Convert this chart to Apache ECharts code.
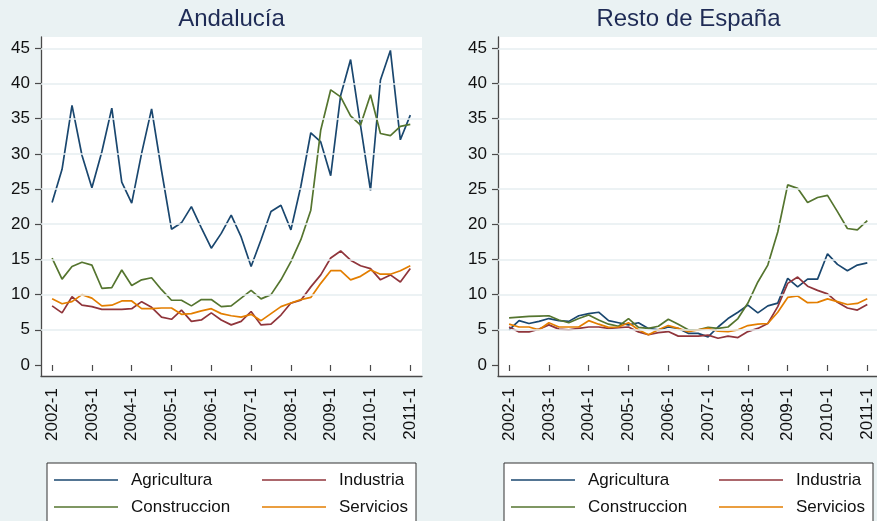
<!DOCTYPE html>
<html>
<head>
<meta charset="utf-8">
<script src="https://cdn.jsdelivr.net/npm/echarts@6/dist/echarts.min.js"></script>
<style>
  html, body { margin: 0; padding: 0; background: #eaf2f3; }
  #chart { width: 877px; height: 521px; }
</style>
</head>
<body>
<div id="chart"></div>
<script>
// trimestres 2002-1 .. 2011-1
var quarters = [];
for (var y = 2002; y <= 2011; y++) {
  for (var q = 1; q <= 4; q++) {
    if (y === 2011 && q > 1) break;
    quarters.push(y + '-' + q);
  }
}
var yTicks = [0, 5, 10, 15, 20, 25, 30, 35, 40, 45];
var titles = ['Andalucía', 'Resto de España'];
var sectors = ['Agricultura', 'Industria', 'Construccion', 'Servicios'];

// Andalucia
var andAgricultura = [23.1, 27.8, 36.9, 29.8, 25.2, 30.3, 36.5, 26.0, 23.0, 30.1, 36.4, 27.6, 19.3, 20.2, 22.5, 19.5, 16.6, 18.7, 21.3, 18.2, 14.0, 17.8, 21.8, 22.7, 19.2, 25.4, 33.0, 31.7, 26.9, 38.3, 43.4, 34.0, 24.8, 40.5, 44.7, 32.0, 35.5];
var andIndustria = [8.4, 7.4, 9.7, 8.5, 8.3, 7.9, 7.9, 7.9, 8.0, 9.0, 8.2, 6.8, 6.5, 7.8, 6.2, 6.4, 7.4, 6.4, 5.7, 6.2, 7.6, 5.7, 5.8, 7.1, 8.8, 9.2, 11.1, 12.8, 15.2, 16.2, 14.9, 14.1, 13.7, 12.1, 12.8, 11.8, 13.7];
var andConstruccion = [15.2, 12.2, 14.0, 14.6, 14.2, 10.9, 11.0, 13.5, 11.3, 12.1, 12.4, 10.7, 9.2, 9.2, 8.4, 9.3, 9.3, 8.3, 8.4, 9.5, 10.6, 9.4, 10.0, 12.1, 14.7, 17.8, 22.0, 33.4, 39.1, 38.1, 35.4, 34.1, 38.4, 32.9, 32.6, 33.9, 34.2];
var andServicios = [9.4, 8.7, 9.0, 10.0, 9.5, 8.4, 8.5, 9.1, 9.1, 8.0, 8.0, 8.1, 8.1, 7.2, 7.3, 7.7, 8.0, 7.3, 7.0, 6.8, 7.2, 6.3, 7.3, 8.3, 8.8, 9.3, 9.6, 11.6, 13.4, 13.4, 12.1, 12.6, 13.5, 12.9, 12.9, 13.4, 14.1];

// Resto de España
var resAgricultura = [5.0, 6.3, 5.9, 6.2, 6.6, 6.3, 6.2, 7.0, 7.3, 7.5, 6.3, 6.0, 5.7, 6.0, 5.2, 5.0, 5.4, 5.2, 4.5, 4.5, 4.0, 5.4, 6.6, 7.5, 8.5, 7.4, 8.4, 8.8, 12.3, 11.1, 12.2, 12.2, 15.8, 14.3, 13.4, 14.2, 14.5];
var resIndustria = [5.4, 4.7, 4.7, 5.1, 5.7, 5.1, 5.0, 5.2, 5.4, 5.4, 5.2, 5.3, 5.4, 4.7, 4.3, 4.6, 4.75, 4.1, 4.1, 4.1, 4.25, 3.8, 4.1, 3.9, 4.75, 5.2, 5.9, 8.3, 11.6, 12.5, 11.2, 10.6, 10.1, 8.9, 8.1, 7.8, 8.6];
var resConstruccion = [6.7, 6.8, 6.9, 6.95, 7.0, 6.4, 6.0, 6.6, 7.1, 6.4, 5.8, 5.5, 6.6, 5.35, 5.2, 5.5, 6.5, 5.8, 5.0, 5.0, 5.35, 5.2, 5.4, 6.6, 8.8, 11.8, 14.2, 18.9, 25.6, 25.1, 23.1, 23.8, 24.1, 21.8, 19.4, 19.2, 20.5];
var resServicios = [5.8, 5.4, 5.4, 5.0, 6.0, 5.4, 5.4, 5.4, 6.3, 5.8, 5.35, 5.4, 6.0, 5.0, 4.3, 5.0, 5.6, 5.2, 4.75, 5.0, 5.2, 4.8, 4.75, 5.0, 5.6, 5.8, 5.9, 7.5, 9.6, 9.8, 8.85, 8.9, 9.4, 9.0, 8.6, 8.75, 9.4];

var panelData = [
  [andAgricultura, andIndustria, andConstruccion, andServicios],
  [resAgricultura, resIndustria, resConstruccion, resServicios]
];

var colors = ['#1a476f', '#90353b', '#55752f', '#e37e00'];
var FONT = 'Liberation Sans, Arial, sans-serif';
var axisColor = '#4a4a4a';

// layout (px)
var panelLeft = [41, 498];
var frameTop = 37, frameH = 339, frameW = 381;
var padL = 11.1, dataW = 358.2, dataTop = 48.3, dataH = 316.7;
var unit = dataH / 45;
var frameMin = -(frameTop + frameH - (dataTop + dataH)) / unit;
var frameMax = 45 + (dataTop - frameTop) / unit;
// leyenda: columna, fila de cada sector
var legendPos = [[0, 0], [1, 0], [0, 1], [1, 1]];

var grid = [], xAxis = [], yAxis = [], series = [], legend = [], graphic = [];

for (var p = 0; p < 2; p++) {
  var L = panelLeft[p];
  var gA = grid.length;
  // marco blanco
  grid.push({ left: L, top: frameTop, width: frameW, height: frameH,
    show: true, backgroundColor: '#ffffff', borderWidth: 0 });
  xAxis.push({ gridIndex: gA, type: 'value', min: 0, max: 1,
    axisLine: { show: true, onZero: false, lineStyle: { color: axisColor, width: 1.3 } },
    axisTick: { show: false }, axisLabel: { show: false }, splitLine: { show: false } });
  yAxis.push({ gridIndex: gA, type: 'value', min: frameMin, max: frameMax,
    axisLine: { show: true, onZero: false, lineStyle: { color: axisColor, width: 1.3 } },
    axisTick: { show: false }, axisLabel: { show: false }, splitLine: { show: false } });
  series.push({
    type: 'line', xAxisIndex: gA, yAxisIndex: gA, data: [], silent: true, z: 1,
    markLine: {
      silent: true, symbol: 'none', label: { show: false },
      lineStyle: { color: '#e6eef0', type: 'solid', width: 1.6 },
      data: yTicks.filter(function (v) { return v > 0; }).map(function (v) { return { yAxis: v }; })
    }
  });

  // datos
  var gB = grid.length;
  grid.push({ left: L + padL, top: dataTop, width: dataW, height: dataH, show: false });
  xAxis.push({ gridIndex: gB, type: 'category', boundaryGap: false, data: quarters, offset: padL,
    axisLine: { show: false },
    axisTick: { show: true, interval: 3, length: 6, lineStyle: { color: axisColor, width: 1.2 } },
    axisLabel: { interval: 3, rotate: 90, margin: 12, fontSize: 17, color: '#111', fontFamily: FONT },
    splitLine: { show: false } });
  yAxis.push({ gridIndex: gB, type: 'value', min: 0, max: 45, interval: 5, offset: padL,
    axisLine: { show: false },
    axisTick: { show: true, length: 6, lineStyle: { color: axisColor, width: 1.2 } },
    axisLabel: { margin: 11, fontSize: 17, color: '#111', fontFamily: FONT },
    splitLine: { show: false } });
  for (var s = 0; s < 4; s++) {
    series.push({
      name: sectors[s], type: 'line', xAxisIndex: gB, yAxisIndex: gB,
      data: panelData[p][s], symbol: 'none', z: 3,
      lineStyle: { color: colors[s], width: 1.7 }, itemStyle: { color: colors[s] }
    });
  }

  // caja de la leyenda
  graphic.push({
    type: 'rect', shape: { x: L + 6, y: 463, width: 369, height: 80 }, z: 0,
    style: { fill: '#ffffff', stroke: '#333333', lineWidth: 1 }
  });
  for (var k = 0; k < 4; k++) {
    legend.push({
      left: L + 13 + 208 * legendPos[k][0], top: 470.5 + 27 * legendPos[k][1],
      orient: 'horizontal', selectedMode: false, data: [sectors[k]],
      icon: 'rect', itemWidth: 64, itemHeight: 1.6, padding: 0, z: 5,
      textStyle: { fontSize: 17, color: '#111', fontFamily: FONT, lineHeight: 19,
        padding: [0, 0, 0, 8] }
    });
  }

  graphic.push({
    type: 'text', x: L + frameW / 2, y: 19,
    style: { text: titles[p], fill: '#1e2b55', font: '24px ' + FONT,
      textAlign: 'center', textVerticalAlign: 'middle' }
  });
}

var myChart = echarts.init(document.getElementById('chart'));
myChart.setOption({
  backgroundColor: '#eaf2f3',
  animation: false,
  grid: grid,
  xAxis: xAxis,
  yAxis: yAxis,
  legend: legend,
  graphic: graphic,
  series: series
});
</script>
</body>
</html>
